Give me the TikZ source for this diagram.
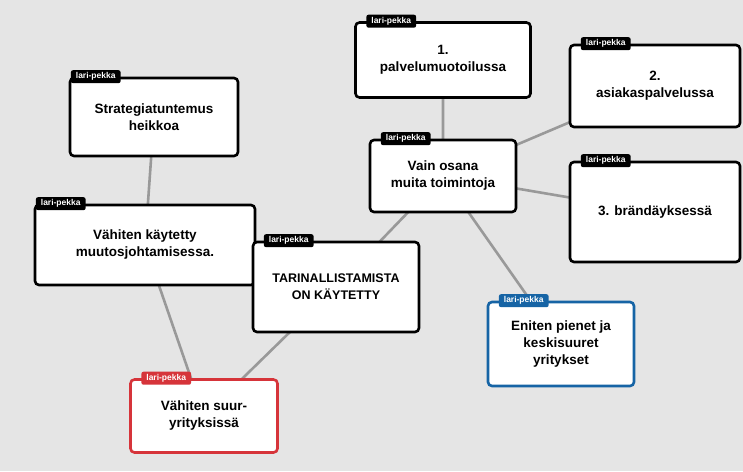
\documentclass[tikz,border=0pt]{standalone}
\usepackage{fontspec}
\setmainfont{Liberation Sans}
\begin{document}
\begin{tikzpicture}[x=1pt,y=-1pt,
  card/.style={draw=black,line width=2.6pt,rounded corners=4pt,fill=white,align=center,font=\bfseries\fontsize{13.5}{17}\selectfont,inner sep=0pt},
  tag/.style={fill=black,text=white,rounded corners=2pt,font=\bfseries\fontsize{8.5}{9}\selectfont,inner xsep=5pt,inner ysep=2.5pt,anchor=west},
  link/.style={draw=black!40,line width=2.6pt}]
\fill[black!10] (0,0) rectangle (743,471);
\useasboundingbox (0,0) rectangle (743,471);
\coordinate (cs) at (154,117); \coordinate (cv) at (145,245); \coordinate (cr) at (204,416);
\coordinate (ct) at (336,287); \coordinate (c1) at (443,60); \coordinate (c2) at (655,86);
\coordinate (co) at (443,176); \coordinate (c3) at (655,212); \coordinate (ce) at (561,344);
\draw[link] (cs)--(cv) (cv)--(cr) (cr)--(ct) (ct)--(co) (co)--(c1) (co)--(c2) (co)--(c3) (co)--(ce);
\node[card,minimum width=168,minimum height=78] (s) at (cs) {Strategiatuntemus\\heikkoa};
\node[card,minimum width=220,minimum height=80] (v) at (cv) {Vähiten käytetty\\muutosjohtamisessa.};
\node[card,draw={rgb,255:red,214;green,52;blue,58},minimum width=147,minimum height=73] (r) at (cr) {Vähiten suur-\\yrityksissä};
\node[card,minimum width=166,minimum height=90] (t) at (ct) {\fontsize{12.5}{17}\selectfont TARINALLISTAMISTA\\\fontsize{12.5}{17}\selectfont ON KÄYTETTY};
\node[card,minimum width=175,minimum height=75] (p1) at (c1) {1.\\palvelumuotoilussa};
\node[card,minimum width=170,minimum height=82] (p2) at (c2) {2.\\asiakaspalvelussa};
\node[card,minimum width=146,minimum height=72] (o) at (co) {Vain osana\\muita toimintoja};
\node[card,minimum width=170,minimum height=100] (p3) at (c3) {3. brändäyksessä};
\node[card,draw={rgb,255:red,22;green,100;blue,165},minimum width=146,minimum height=84] (e) at (ce) {Eniten pienet ja\\keskisuuret\\yritykset};
\node[tag] (ts) at ([xshift=2pt]s.north west) {lari-pekka};
\node[tag] (tv) at ([xshift=2pt]v.north west) {lari-pekka};
\node[tag,fill={rgb,255:red,214;green,52;blue,58}] (tr) at ([xshift=12pt]r.north west) {lari-pekka};
\node[tag] (tt) at ([xshift=12pt]t.north west) {lari-pekka};
\node[tag] (tp1) at ([xshift=12pt]p1.north west) {lari-pekka};
\node[tag] (tp2) at ([xshift=12pt]p2.north west) {lari-pekka};
\node[tag] (to) at ([xshift=12pt]o.north west) {lari-pekka};
\node[tag] (tp3) at ([xshift=12pt]p3.north west) {lari-pekka};
\node[tag,fill={rgb,255:red,22;green,100;blue,165}] (te) at ([xshift=12pt]e.north west) {lari-pekka};
\end{tikzpicture}
\end{document}
